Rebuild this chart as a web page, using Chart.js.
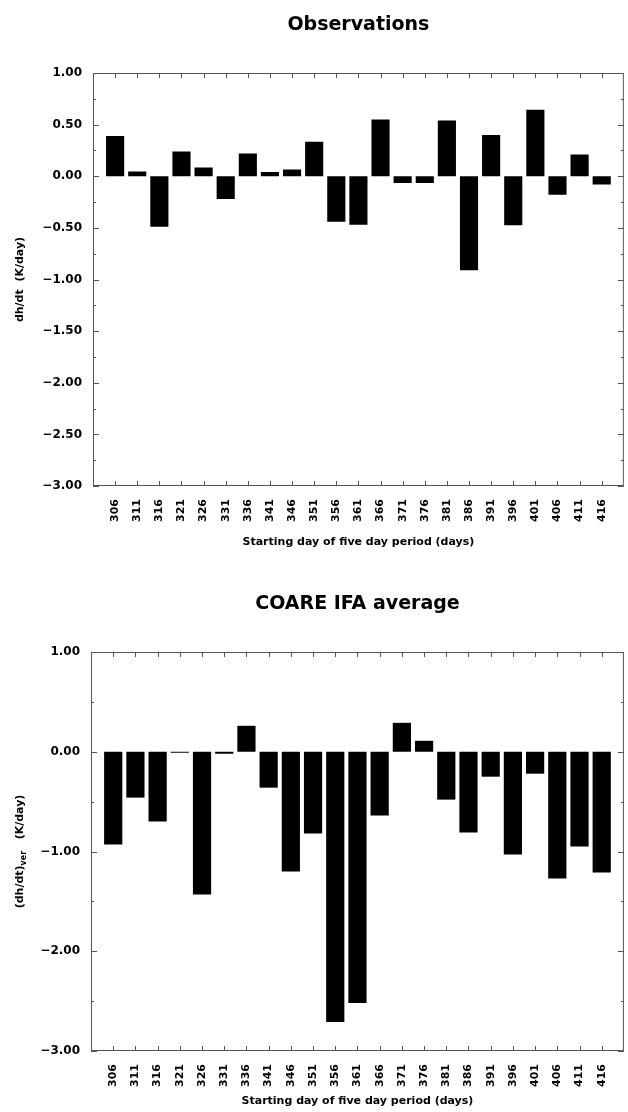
<!DOCTYPE html>
<html>
<head>
<meta charset="utf-8">
<script src="https://cdn.jsdelivr.net/npm/chart.js@4.4.1/dist/chart.umd.min.js"></script>
<style>
  body { margin: 0; background: #fff; }
  canvas { display: block; }
</style>
</head>
<body>
<canvas id="obsChart" width="628" height="556"></canvas>
<canvas id="ifaChart" width="628" height="556"></canvas>
<script>
// starting day of each five day period
const days = [306, 311, 316, 321, 326, 331, 336, 341, 346, 351, 356, 361,
              366, 371, 376, 381, 386, 391, 396, 401, 406, 411, 416];

// dh/dt (K/day), observations
const observed = [0.39, 0.045, -0.49, 0.24, 0.085, -0.22, 0.22, 0.04, 0.065, 0.335, -0.44, -0.47,
                  0.55, -0.065, -0.065, 0.54, -0.91, 0.40, -0.475, 0.645, -0.18, 0.21, -0.08];

// (dh/dt)ver (K/day), COARE IFA average
const ifaAverage = [-0.93, -0.46, -0.70, -0.01, -1.43, -0.02, 0.26, -0.36, -1.20, -0.82, -2.71, -2.52,
                    -0.64, 0.29, 0.11, -0.48, -0.81, -0.25, -1.03, -0.22, -1.27, -0.95, -1.21];

const FONT = "'DejaVu Sans', 'Liberation Sans', sans-serif";

const fmt = v => (v < 0 ? "\u2212" : "") + Math.abs(v).toFixed(2);

/*
  frame, inward tick marks, chart title and the y title
  (the y title can carry a subscript, so it is drawn here)
*/
const frameTicks = {
  id: "frameTicks",
  afterDatasetsDraw(chart, args, opts) {
    const { ctx, chartArea: { left, right, top, bottom }, scales: { x, y } } = chart;
    ctx.save();

    ctx.strokeStyle = "#555";
    ctx.lineWidth = 1;
    ctx.strokeRect(left + 0.5, top + 0.5, right - left - 1, bottom - top - 1);

    ctx.beginPath();
    x.ticks.forEach(t => {
      const px = Math.round(x.getPixelForValue(t.value)) + 0.5;
      ctx.moveTo(px, top); ctx.lineTo(px, top + 5);
      ctx.moveTo(px, bottom); ctx.lineTo(px, bottom - 5);
    });
    y.ticks.forEach(t => {
      const py = Math.round(y.getPixelForValue(t.value)) + 0.5;
      const len = t.label ? 6 : 3;
      ctx.moveTo(left, py); ctx.lineTo(left + len, py);
      ctx.moveTo(right, py); ctx.lineTo(right - len, py);
    });
    ctx.stroke();

    // title
    ctx.fillStyle = "#000";
    ctx.font = "bold 19px " + FONT;
    ctx.textAlign = "center";
    ctx.textBaseline = "middle";
    ctx.fillText(opts.title, (left + right) / 2, top - 48);

    // y title, rotated
    const main = "bold 11px " + FONT;
    const sub = "bold 8px " + FONT;
    let total = 0;
    opts.yTitle.forEach(p => {
      ctx.font = p.sub ? sub : main;
      total += ctx.measureText(p.text).width;
    });
    ctx.translate(opts.yTitleX, (top + bottom) / 2);
    ctx.rotate(-Math.PI / 2);
    ctx.textAlign = "left";
    let pos = -total / 2;
    opts.yTitle.forEach(p => {
      ctx.font = p.sub ? sub : main;
      ctx.fillText(p.text, pos, p.sub ? 4 : 0);
      pos += ctx.measureText(p.text).width;
    });

    ctx.restore();
  }
};

function makeChart(id, values, cfg) {
  return new Chart(document.getElementById(id), {
    type: "bar",
    data: {
      datasets: [{
        data: days.map((d, i) => ({ x: d, y: values[i] })),
        backgroundColor: "#000",
        borderWidth: 0,
        barPercentage: 0.82,
        categoryPercentage: 1
      }]
    },
    options: {
      responsive: false,
      animation: false,
      layout: { padding: { top: cfg.padTop, right: 2, bottom: 2, left: 0 } },
      plugins: {
        legend: { display: false },
        tooltip: { enabled: false },
        frameTicks: { title: cfg.title, yTitle: cfg.yTitle, yTitleX: 20 }
      },
      scales: {
        x: {
          type: "linear",
          min: 301,
          max: 421,
          offset: false,
          grid: { display: false, drawTicks: false, offset: false },
          border: { display: false },
          afterBuildTicks: s => { s.ticks = days.map(d => ({ value: d })); },
          afterFit: s => { s.height = cfg.xHeight; },
          ticks: {
            autoSkip: false,
            minRotation: 90,
            maxRotation: 90,
            padding: 13,
            color: "#000",
            font: { family: FONT, size: 11, weight: "bold" },
            callback: v => String(v)
          },
          title: {
            display: true,
            text: "Starting day of five day period (days)",
            color: "#000",
            font: { family: FONT, size: 11, weight: "bold" },
            padding: { top: 0, bottom: cfg.xTitlePad }
          }
        },
        y: {
          min: -3,
          max: 1,
          grid: { display: false, drawTicks: false },
          border: { display: false },
          afterFit: s => { s.width = cfg.yWidth; },
          ticks: {
            stepSize: cfg.step,
            autoSkip: false,
            padding: 11,
            color: "#000",
            font: { family: FONT, size: 12, weight: "bold" },
            callback: v => {
              const r = v / cfg.major;
              return Math.abs(r - Math.round(r)) < 1e-6 ? fmt(v) : "";
            }
          }
        }
      }
    },
    plugins: [frameTicks]
  });
}

makeChart("obsChart", observed, {
  title: "Observations",
  yTitle: [{ text: "dh/dt  (K/day)" }],
  padTop: 73, xHeight: 68, xTitlePad: 5, yWidth: 93,
  step: 0.25, major: 0.5
});

makeChart("ifaChart", ifaAverage, {
  title: "COARE IFA average",
  yTitle: [{ text: "(dh/dt)" }, { text: "ver", sub: true }, { text: "   (K/day)" }],
  padTop: 96, xHeight: 59, xTitlePad: 2, yWidth: 91,
  step: 0.5, major: 1
});
</script>
</body>
</html>
